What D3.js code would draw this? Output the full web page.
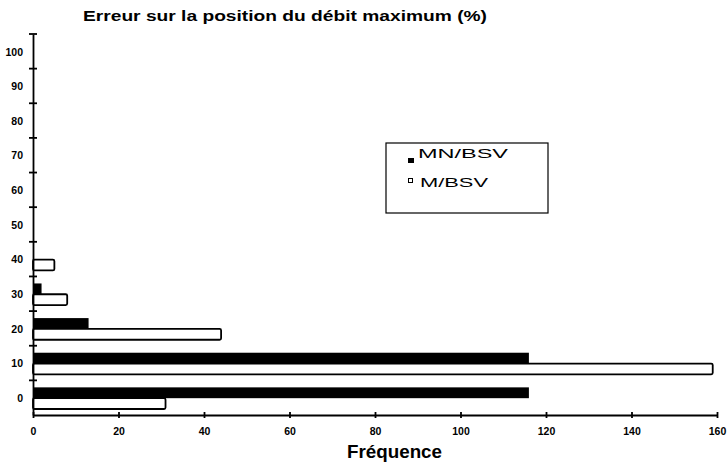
<!DOCTYPE html>
<html lang="fr">
  <head>
    <meta charset="utf-8">
    <title>Erreur sur la position du débit maximum</title>
    <script src="https://d3js.org/d3.v7.min.js"></script>
    <style>
      body { margin: 0; background: #fff; }
      text { font-family: "Liberation Sans", Arial, sans-serif; }
      .axis path, .axis line { stroke: #000; stroke-width: 1.8; }
      .axis text { font-size: 10.5px; font-weight: bold; fill: #000; }
    </style>
  </head>
  <body>
    <div id="chart"></div>
    <script>
      // error classes (%)
      var categories = [0, 10, 20, 30, 40, 50, 60, 70, 80, 90, 100];
      var series = ["MN/BSV", "M/BSV"];
      var mnBsv = [116, 116, 13, 2, 0, 0, 0, 0, 0, 0, 0];
      var mBsv = [31, 159, 44, 8, 5, 0, 0, 0, 0, 0, 0];
      var xTicks = [0, 20, 40, 60, 80, 100, 120, 140, 160];

      var W = 727, H = 465;
      var svg = d3.select("#chart").append("svg")
        .attr("width", W)
        .attr("height", H);

      var x = d3.scaleLinear().domain([0, 160]).range([33, 717]);
      var y = d3.scaleBand()
        .domain(categories.slice().reverse())
        .range([34, 415]);
      var sub = d3.scaleBand()
        .domain(series)
        .range([7, y.bandwidth() - 6]);

      var rows = categories.map(function(c, i) {
        return { cat: c, values: [mnBsv[i], mBsv[i]] };
      });

      // bars
      var groups = svg.append("g").selectAll("g").data(rows).enter().append("g")
        .attr("transform", function(d) { return "translate(0," + y(d.cat) + ")"; });
      groups.selectAll("rect")
        .data(function(d) {
          return series.map(function(s, j) { return { s: s, v: d.values[j] }; })
            .filter(function(e) { return e.v > 0; });
        })
        .enter().append("rect")
          .attr("x", x(0))
          .attr("y", function(d) { return sub(d.s); })
          .attr("width", function(d) { return x(d.v) - x(0); })
          .attr("height", sub.bandwidth())
          .attr("rx", function(d) { return d.s == "M/BSV" ? 1.5 : 0; })
          .attr("fill", function(d) { return d.s == "MN/BSV" ? "#000" : "#fff"; })
          .attr("stroke", function(d) { return d.s == "MN/BSV" ? "none" : "#000"; })
          .attr("stroke-width", 1.8);

      // x axis
      var xAxis = svg.append("g")
        .attr("class", "axis")
        .attr("transform", "translate(0,415)")
        .call(d3.axisBottom(x).tickValues(xTicks).tickSize(3).tickSizeOuter(0).tickPadding(10));
      xAxis.selectAll(".tick line").attr("y1", -3).attr("y2", 3);

      // y axis: labels in band centres, ticks on band edges
      var yAxis = svg.append("g")
        .attr("class", "axis")
        .attr("transform", "translate(33,0)")
        .call(d3.axisLeft(y).tickSize(0).tickPadding(10));
      yAxis.selectAll(".tick text").attr("dy", "0.4em");
      var edges = categories.map(function(c) { return y(c); });
      yAxis.selectAll("line.edge").data(edges).enter().append("line")
        .attr("class", "edge")
        .attr("x1", -4).attr("x2", 4)
        .attr("y1", function(d) { return d; })
        .attr("y2", function(d) { return d; });

      // title
      svg.append("text")
        .attr("x", 83)
        .attr("y", 21)
        .attr("textLength", 404)
        .attr("lengthAdjust", "spacingAndGlyphs")
        .style("font-size", "15.5px")
        .style("font-weight", "bold")
        .text("Erreur sur la position du débit maximum (%)");

      // x label
      svg.append("text")
        .attr("x", 347)
        .attr("y", 458)
        .attr("textLength", 95)
        .attr("lengthAdjust", "spacingAndGlyphs")
        .style("font-size", "17.5px")
        .style("font-weight", "bold")
        .text("Fréquence");

      // legend
      var legend = svg.append("g").attr("transform", "translate(386,143)");
      legend.append("rect")
        .attr("width", 162).attr("height", 70)
        .attr("fill", "#fff").attr("stroke", "#000").attr("stroke-width", 1.2);
      legend.append("rect")
        .attr("x", 22).attr("y", 15).attr("width", 6).attr("height", 5)
        .attr("fill", "#000");
      legend.append("text")
        .attr("x", 32).attr("y", 14.5)
        .attr("textLength", 90)
        .attr("lengthAdjust", "spacingAndGlyphs")
        .style("font-size", "12px")
        .text(series[0]);
      legend.append("rect")
        .attr("x", 22.5).attr("y", 35.5).attr("width", 4).attr("height", 4)
        .attr("fill", "#fff").attr("stroke", "#000").attr("stroke-width", 1);
      legend.append("text")
        .attr("x", 34).attr("y", 44)
        .attr("textLength", 68)
        .attr("lengthAdjust", "spacingAndGlyphs")
        .style("font-size", "12.5px")
        .text(series[1]);
    </script>
  </body>
</html>
